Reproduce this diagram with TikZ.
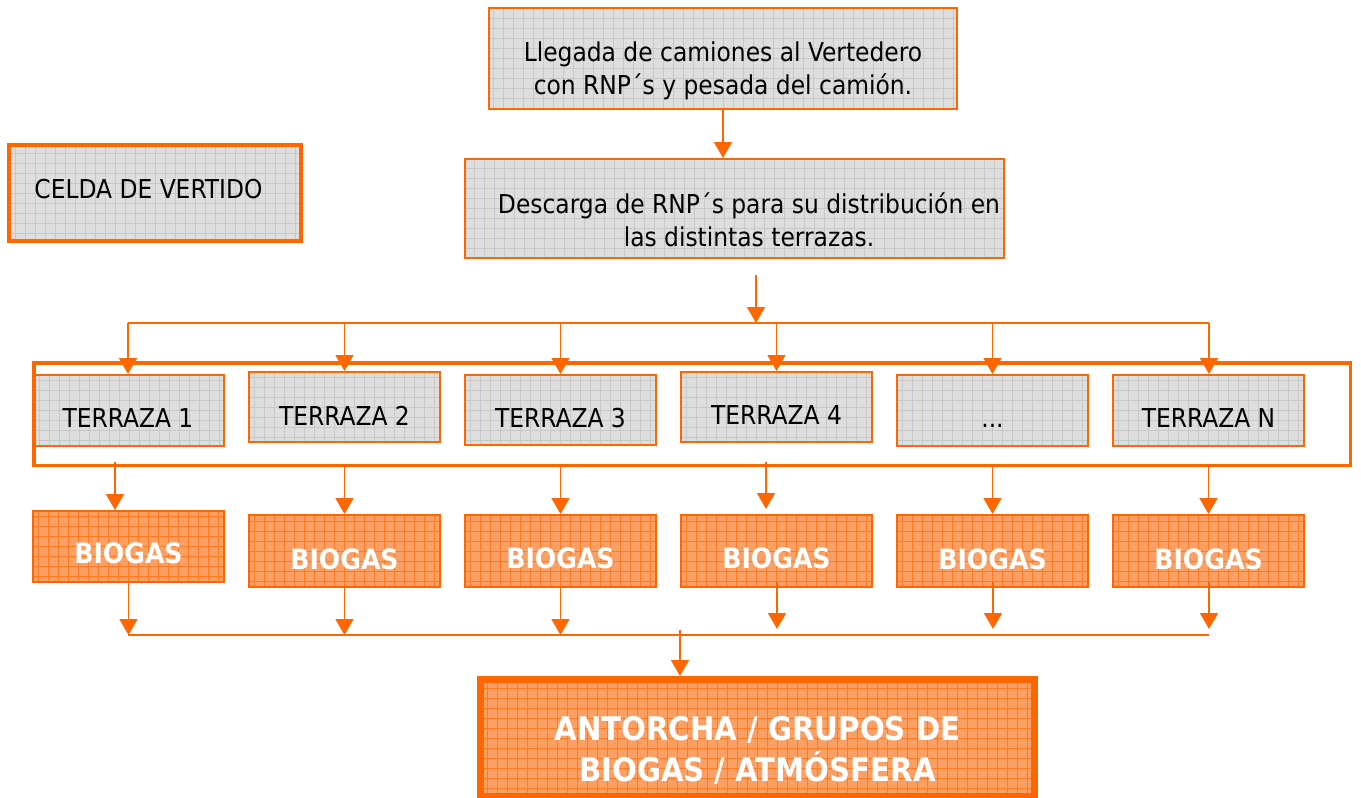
\documentclass[tikz,border=0pt]{standalone}
\usepackage{fontspec}
\setmainfont{DejaVu Sans Condensed}
\usetikzlibrary{arrows.meta}
\definecolor{orL}{HTML}{FF6600}
\definecolor{grayfill}{HTML}{DEDEDE}
\definecolor{gridgray}{HTML}{C8C8C8}
\definecolor{orfill}{HTML}{FBA064}
\definecolor{gridor}{HTML}{FF7A22}
\tikzset{
  gbox/.style={draw=orL, line width=2pt, fill=grayfill, inner sep=0pt,
    path picture={\draw[gridgray, line width=0.6pt, step=10pt] (path picture bounding box.south west) grid (path picture bounding box.north east);}},
  obox/.style={draw=orL, line width=2pt, fill=orfill, inner sep=0pt,
    path picture={\draw[gridor, line width=0.8pt, step=10pt] (path picture bounding box.south west) grid (path picture bounding box.north east);}},
  txt/.style={anchor=base, inner sep=0pt, font=\fontsize{26}{33}\selectfont, align=center},
  btxt/.style={anchor=base, inner sep=0pt, text=white, font=\fontsize{28}{33}\selectfont\bfseries},
  ln/.style={draw=orL, line width=1.8pt},
  arr/.style={draw=orL, line width=1.8pt, -{Triangle[width=18pt,length=16pt]}},
}
\begin{document}
\begin{tikzpicture}[x=1pt,y=-1pt]
\useasboundingbox (0,0) rectangle (1361,798);
% top boxes
\node[gbox, minimum width=468pt, minimum height=101pt] (top) at (723,58.5) {};
\node[txt] (toptxt) at (723,94) {Llegada de camiones al Vertedero\\con RNP´s y pesada del camión.};
\node[gbox, minimum width=539pt, minimum height=99pt] (desc) at (734.5,208.5) {};
\node[txt] (desctxt) at (749,246) {Descarga de RNP´s para su distribución en\\las distintas terrazas.};
\node[gbox, line width=4pt, minimum width=292pt, minimum height=96pt] (celda) at (155,193) {};
\node[txt] (celdatxt) at (148.5,198) {CELDA DE VERTIDO};
\draw[arr] (top.south) -- (top.south |- desc.north);
% frame
\node[draw=orL, line width=3.5pt, minimum width=1316.5pt, minimum height=102.5pt, inner sep=0pt] (frame) at (692,414) {};
% terraces
\node[gbox, minimum width=189pt, minimum height=71pt] (t1) at (129.5,410.5) {};
\node[gbox, minimum width=191pt, minimum height=70pt] (t2) at (344.5,407) {};
\node[gbox, minimum width=191pt, minimum height=70pt] (t3) at (560.5,410) {};
\node[gbox, minimum width=191pt, minimum height=70pt] (t4) at (776.5,407) {};
\node[gbox, minimum width=191pt, minimum height=71pt] (t5) at (992.5,410.5) {};
\node[gbox, minimum width=191pt, minimum height=71pt] (t6) at (1208.5,410.5) {};
\node[txt] (t1txt) at (128,427) {TERRAZA 1};
\node[txt] (t2txt) at (344.5,425) {TERRAZA 2};
\node[txt] (t3txt) at (560.5,427) {TERRAZA 3};
\node[txt] (t4txt) at (776.5,424) {TERRAZA 4};
\node[txt] (t5txt) at (992.5,427) {...};
\node[txt] (t6txt) at (1208.5,427) {TERRAZA N};
% distribution line
\coordinate (a0) at (756,275);
\coordinate (hl) at (128,323);
\coordinate (hr) at (1209,323);
\draw[arr] (a0) -- (a0 |- hl);
\draw[ln] (hl) -- (hr);
\draw[arr] (hl) -- (hl |- t1.north);
\draw[arr] (t2.north |- hl) -- (t2.north);
\draw[arr] (t3.north |- hl) -- (t3.north);
\draw[arr] (t4.north |- hl) -- (t4.north);
\draw[arr] (t5.north |- hl) -- (t5.north);
\draw[arr] (hr) -- (hr |- t6.north);
% biogas
\node[obox, minimum width=191pt, minimum height=71pt] (b1) at (128.5,546.5) {};
\node[obox, minimum width=191pt, minimum height=72pt] (b2) at (344.5,551) {};
\node[obox, minimum width=191pt, minimum height=72pt] (b3) at (560.5,551) {};
\node[obox, minimum width=191pt, minimum height=72pt] (b4) at (776.5,551) {};
\node[obox, minimum width=191pt, minimum height=72pt] (b5) at (992.5,551) {};
\node[obox, minimum width=191pt, minimum height=72pt] (b6) at (1208.5,551) {};
\node[btxt] (b1txt) at (128.5,563) {BIOGAS};
\node[btxt] (b2txt) at (344.5,569) {BIOGAS};
\node[btxt] (b3txt) at (560.5,568) {BIOGAS};
\node[btxt] (b4txt) at (776.5,568) {BIOGAS};
\node[btxt] (b5txt) at (992.5,569) {BIOGAS};
\node[btxt] (b6txt) at (1208.5,569) {BIOGAS};
% frame to biogas
\coordinate (f1) at (115,462);
\coordinate (f4) at (766,462);
\coordinate (g4) at (766,509);
\draw[arr] (f1) -- (f1 |- b1.north);
\draw[arr] (b2.north |- frame.south) -- (b2.north);
\draw[arr] (b3.north |- frame.south) -- (b3.north);
\draw[arr] (f4) -- (g4);
\draw[arr] (b5.north |- frame.south) -- (b5.north);
\draw[arr] (b6.north |- frame.south) -- (b6.north);
% biogas to collector
\coordinate (bl) at (128,635);
\coordinate (br) at (1209,635);
\coordinate (s4) at (777,582);
\coordinate (s5) at (993,582);
\coordinate (s6) at (1209,582);
\draw[ln] (bl) -- (br);
\draw[arr] (b1.south) -- (b1.south |- bl);
\draw[arr] (b2.south) -- (b2.south |- bl);
\draw[arr] (b3.south) -- (b3.south |- bl);
\draw[arr] (s4) -- ++(0,47);
\draw[arr] (s5) -- ++(0,47);
\draw[arr] (s6) -- ++(0,47);
% final box
\node[obox, line width=7pt, minimum width=554pt, minimum height=117pt] (fin) at (757.5,738) {};
\node[btxt, font=\fontsize{32.5}{41}\selectfont\bfseries, align=center] (fintxt) at (757.5,781) {ANTORCHA / GRUPOS DE\\BIOGAS / ATMÓSFERA};
\coordinate (c0) at (680,630);
\coordinate (c1) at (680,676);
\draw[arr] (c0) -- (c1);
\end{tikzpicture}
\end{document}
